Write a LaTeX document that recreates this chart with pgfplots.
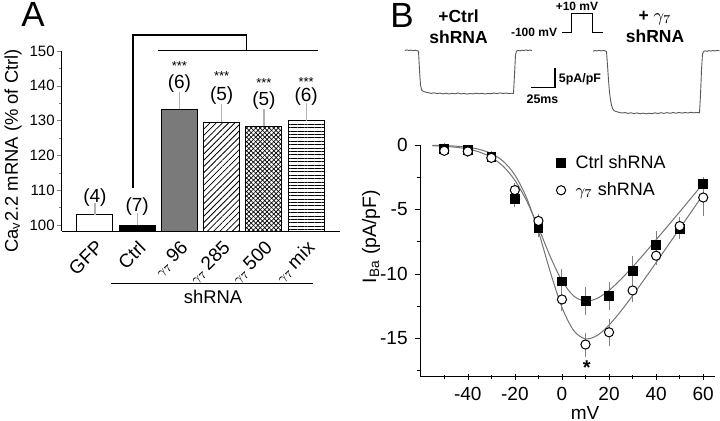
\documentclass[border=0pt]{standalone}
\usepackage{fontspec}
\setmainfont{Liberation Sans}
\usepackage{pgfplots}
\pgfplotsset{compat=1.18}
\usetikzlibrary{patterns,patterns.meta}

\begin{document}
\begin{tikzpicture}[font=\fontsize{9}{10}\selectfont]
\useasboundingbox (0,0) rectangle (360pt,210pt);

% ---------------- Panel A ----------------
\begin{axis}[
  at={(31pt,94.5pt)}, anchor=south west, scale only axis,
  width=139pt, height=90pt,
  xmin=-0.78, xmax=5.8, ymin=98.3, ymax=150,
  axis x line*=bottom, axis y line*=left,
  axis line style={-, line width=0.5pt},
  clip=false,
  xtick={0,1,2,3,4,5},
  xticklabels={GFP, Ctrl, {{\fontsize{6.3}{7}\selectfont$\gamma_7$}\,96}, {{\fontsize{6.3}{7}\selectfont$\gamma_7$}\,285}, {{\fontsize{6.3}{7}\selectfont$\gamma_7$}\,500}, {{\fontsize{6.3}{7}\selectfont$\gamma_7$}\,mix}},
  x tick style={draw=none},
  xticklabel style={font=\fontsize{9.5}{10}\selectfont, rotate=45, anchor=north east, inner sep=1pt},
  ytick={100,110,...,150},
  minor y tick num=1,
  tick align=outside,
  major tick length=2.5pt, minor tick length=1.5pt,
  yticklabel style={font=\fontsize{7.5}{8}\selectfont, inner sep=1pt},
  /pgf/number format/assume math mode=true,
]
\addplot[ybar, bar shift=0pt, bar width=18pt, fill=white, draw=black, line width=0.5pt,
  error bars/.cd, y dir=plus, y explicit, error bar style={gray!60, line width=0.6pt}, error mark options={gray!60, mark size=1.5pt, line width=0.6pt}]
  coordinates {(0,103) +- (0,2.4)};
\addplot[ybar, bar shift=0pt, bar width=18pt, fill=black, draw=black, line width=0.5pt,
  error bars/.cd, y dir=plus, y explicit, error bar style={gray!60, line width=0.6pt}, error mark options={gray!60, mark size=1.5pt, line width=0.6pt}]
  coordinates {(1,100) +- (0,2.6)};
\addplot[ybar, bar shift=0pt, bar width=18pt, fill=black!52, draw=black, line width=0.5pt,
  error bars/.cd, y dir=plus, y explicit, error bar style={gray!60, line width=0.6pt}, error mark options={gray!60, mark size=1.5pt, line width=0.6pt}]
  coordinates {(2,133.2) +- (0,4.2)};
\addplot[ybar, bar shift=0pt, bar width=18pt, draw=black, line width=0.5pt,
  pattern={Lines[angle=45,distance=2.2pt,line width=0.4pt]},
  error bars/.cd, y dir=plus, y explicit, error bar style={gray!60, line width=0.6pt}, error mark options={gray!60, mark size=1.5pt, line width=0.6pt}]
  coordinates {(3,129.6) +- (0,4.4)};
\addplot[ybar, bar shift=0pt, bar width=18pt, draw=black, line width=0.5pt,
  pattern={Lines[angle=45,distance=1.6pt,line width=0.35pt]},
  postaction={pattern={Lines[angle=-45,distance=1.6pt,line width=0.35pt]}},
  error bars/.cd, y dir=plus, y explicit, error bar style={gray!60, line width=0.6pt}, error mark options={gray!60, mark size=1.5pt, line width=0.6pt}]
  coordinates {(4,128.4) +- (0,4.0)};
\addplot[ybar, bar shift=0pt, bar width=18pt, draw=black, line width=0.5pt,
  pattern={Lines[angle=0,distance=1.7pt,line width=0.35pt]},
  error bars/.cd, y dir=plus, y explicit, error bar style={gray!60, line width=0.6pt}, error mark options={gray!60, mark size=1.5pt, line width=0.6pt}]
  coordinates {(5,130.0) +- (0,4.2)};

\begin{scope}[font=\fontsize{9.5}{10}\selectfont]
\node at (axis cs:0,107.8) {(4)};
\node at (axis cs:1,105.2) {(7)};
\node at (axis cs:2,140.7) {(6)};
\node at (axis cs:3,137.2) {(5)};
\node at (axis cs:4,135.9) {(5)};
\node at (axis cs:5,136.9) {(6)};
\end{scope}
\begin{scope}[font=\fontsize{6.5}{7}\selectfont]
\node at (axis cs:2,145.8) {***};
\node at (axis cs:3,142.9) {***};
\node at (axis cs:4,140.7) {***};
\node at (axis cs:5,141.2) {***};
\end{scope}
\draw[line width=0.75pt] (axis cs:0.9,110.7) |- (axis cs:3.59,154.6) -- (axis cs:3.59,150.1);
\draw[line width=0.75pt] (axis cs:1.49,150.1) -- (axis cs:5.28,150.1);
\draw[line width=0.6pt] (axis cs:0.38,83.3) -- (axis cs:5.17,83.3);
\end{axis}

\node[font=\fontsize{9.2}{10}\selectfont] at (106.5pt,61.5pt) {shRNA};
\node[rotate=90, font=\fontsize{9.2}{10}\selectfont] at (6.5pt,134.5pt) {Ca\textsubscript{v}2.2 mRNA (\% of Ctrl)};
\node[font=\fontsize{17.5}{18}\selectfont] at (16.5pt,203pt) {A};
\node[font=\fontsize{17.5}{18}\selectfont] at (201pt,202.5pt) {B};

% ---------------- Panel B: IV curve ----------------
\begin{axis}[
  at={(210.35pt,21.65pt)}, anchor=south west, scale only axis,
  width=147.15pt, height=115.85pt,
  xmin=-60, xmax=65, ymin=-18, ymax=0,
  axis x line*=bottom, axis y line*=left,
  axis line style={-, line width=0.5pt},
  clip=false,
  xtick={-40,-20,...,60}, ytick={-15,-10,-5,0},
  minor xtick={-50,-30,...,50}, minor ytick={-17.5,-12.5,-7.5,-2.5},
  x tick style={black}, y tick style={black},
  xtick align=center, ytick align=outside,
  major tick length=3pt, minor tick length=2pt,
  ticklabel style={font=\fontsize{9.5}{10}\selectfont},
  /pgf/number format/assume math mode=true,
  legend style={at={(0.46,0.975)}, anchor=north west, draw=none, fill=none,
    font=\fontsize{9}{10}\selectfont, row sep=1.5pt, column sep=3pt, inner sep=0pt},
  legend cell align=left,
]
\addlegendimage{only marks, mark=square*, mark size=2.3pt, black}
\addlegendentry{Ctrl shRNA}
\addlegendimage{only marks, mark=o, mark size=2.3pt, black, mark options={line width=0.5pt}}
\addlegendentry{{\fontsize{8}{9}\selectfont$\gamma_7$} shRNA}

% fitted curves
\addplot[forget plot, black!55, line width=0.5pt, smooth] coordinates {
(-55,-0.055) (-50,-0.098) (-45,-0.175) (-40,-0.311) (-35,-0.55) (-30,-0.96)
(-25,-1.65) (-20,-2.74) (-15,-4.34) (-10,-6.41) (-5,-8.65) (0,-10.55)
(5,-11.73) (10,-12.13) (15,-11.91) (20,-11.29) (25,-10.44) (30,-9.47)
(35,-8.43) (40,-7.36) (45,-6.28) (50,-5.19) (55,-4.09) (60,-2.99)};
\addplot[forget plot, black!55, line width=0.5pt, smooth] coordinates {
(-55,-0.023) (-50,-0.046) (-45,-0.091) (-40,-0.178) (-35,-0.344) (-30,-0.662)
(-25,-1.256) (-20,-2.33) (-15,-4.11) (-10,-6.71) (-5,-9.84) (0,-12.61)
(5,-14.42) (10,-15.06) (15,-14.79) (20,-13.99) (25,-12.91) (30,-11.7)
(35,-10.43) (40,-9.13) (45,-7.81) (50,-6.49) (55,-5.17) (60,-3.84)};

% Ctrl shRNA
\addplot[forget plot, only marks, mark=square*, mark size=2.2pt, black,
  error bars/.cd, y dir=both, y explicit, error bar style={gray, line width=0.5pt}, error mark options={gray, mark size=1.5pt, line width=0.5pt}]
  coordinates {
  (-50,-0.3) +- (0,0.2) (-40,-0.4) +- (0,0.2) (-30,-0.9) +- (0,0.2)
  (-20,-4.2) +- (0,0.4) (-10,-6.45) +- (0,0.5) (0,-10.6) +- (0,0.7)
  (10,-12.1) +- (0,0.85) (20,-11.7) +- (0,0.85) (30,-9.75) +- (0,0.9)
  (40,-7.75) +- (0,0.8) (50,-6.5) +- (0,0.6) (60,-3.05) +- (0,0.3)};
% gamma7 shRNA
\addplot[forget plot, only marks, mark=*, mark size=2.3pt, black, mark options={fill=white, line width=0.5pt},
  error bars/.cd, y dir=both, y explicit, error bar style={gray, line width=0.5pt}, error mark options={gray, mark size=1.5pt, line width=0.5pt}]
  coordinates {
  (-50,-0.45) +- (0,0.2) (-40,-0.5) +- (0,0.2) (-30,-1.0) +- (0,0.2)
  (-20,-3.5) +- (0,0.3) (-10,-5.9) +- (0,0.3) (0,-12.0) +- (0,0.7)
  (10,-15.5) +- (0,0.7) (20,-14.55) +- (0,0.8) (30,-11.3) +- (0,0.7)
  (40,-8.6) +- (0,0.5) (50,-6.3) +- (0,0.5) (60,-4.08) +- (0,1.2)};

\node[font=\bfseries\fontsize{10}{10}\selectfont] at (axis cs:10.5,-17.3) {*};
\end{axis}

\node[rotate=90, font=\fontsize{9.7}{10}\selectfont] at (185.5pt,91.75pt) {I\textsubscript{Ba} (pA/pF)};
\node[anchor=south, inner sep=0pt, font=\fontsize{9.5}{10}\selectfont] at (292.5pt,0.2pt) {mV};

% ---------------- Panel B: traces ----------------
\begin{axis}[
  at={(180pt,140pt)}, anchor=south west, scale only axis,
  width=180pt, height=70pt,
  xmin=360, xmax=720, ymin=0, ymax=140, y dir=reverse,
  hide axis, clip=false,
]
% Ctrl trace
\addplot[black!65, line width=0.45pt] coordinates {
(405,50.5) (407,49.8) (409,50.6) (411,50.0) (413,50.7) (415,50.2) (417,50.8) (418.5,51)
(419.5,70) (420.5,85) (421.5,89.5)
(422,90.5) (425,92.0) (428,92.6) (431,93.4) (434,92.8) (437,93.6) (440,93.1) (443,93.9)
(446,93.2) (449,94.0) (452,93.3) (455,93.8) (458,93.0) (461,93.9) (464,93.4) (467,94.1)
(470,93.5) (473,93.9) (476,93.2) (479,93.8) (482,93.3) (485,94.0) (488,93.4) (491,93.7)
(494,93.0) (497,93.6) (500,92.9) (503,93.5) (506,93.0) (509,93.6) (512,93.2) (513.5,93.4)
(514.5,75) (515.5,55) (516.5,51.2) (518,50.3) (520,50.9) (522,50.1) (524,50.6) (526,49.9)
(528,50.5) (530,50.0) (532,50.6)};
% gamma7 trace
\addplot[black!65, line width=0.45pt] coordinates {
(593,51.2) (595,50.5) (597,51.0) (599,50.3) (601,50.9) (603,50.4) (605,50.8) (606.5,51.5)
(607.5,65) (608.5,80) (609.5,92) (610.5,100) (611.5,105) (612.5,108.5) (614,110.5) (616,111.5)
(619,112.3) (622,113.0) (625,112.5) (628,113.4) (631,112.8) (634,113.6) (637,112.9) (640,113.8)
(643,113.1) (646,113.9) (649,113.2) (652,113.7) (655,112.8) (658,113.5) (661,112.7) (664,113.4)
(667,112.6) (670,113.3) (673,112.5) (676,113.2) (679,112.4) (682,113.1) (685,112.5) (688,113.0)
(691,112.3) (694,112.9) (697,112.4) (699.5,112.8) (700.5,95) (701.5,70) (702.5,54) (703.5,51.5)
(705,50.8) (707,51.3) (709,50.6) (711,51.1) (713,50.5) (715,51.0) (717,50.4) (719.5,50.9)};
% scale bar
\addplot[black, line width=0.75pt] coordinates {(530.7,87.3) (555,87.3) (555,68.3)};
% voltage protocol
\addplot[black, line width=0.75pt] coordinates {(562,32.3) (571.7,32.3) (571.7,13.3) (592.7,13.3) (592.7,32.3) (603.3,32.3)};

\node[font=\bfseries\fontsize{8.75}{10.5}\selectfont, align=center] at (axis cs:458.5,26.5) {+Ctrl\\shRNA};
\node[font=\bfseries\fontsize{8.75}{10.5}\selectfont, align=center] at (axis cs:655,26.5) {+ {\mdseries$\gamma_7$}\\shRNA};
\node[font=\bfseries\fontsize{6}{7}\selectfont, anchor=east, inner sep=0pt] at (axis cs:557.5,32) {-100 mV};
\node[font=\bfseries\fontsize{6}{7}\selectfont] at (axis cs:577,6.5) {+10 mV};
\node[font=\bfseries\fontsize{6.2}{7}\selectfont, anchor=west, inner sep=0pt] at (axis cs:558.5,79.5) {5pA/pF};
\node[font=\bfseries\fontsize{6.2}{7}\selectfont] at (axis cs:542.5,99) {25ms};
\end{axis}
\end{tikzpicture}
\end{document}
